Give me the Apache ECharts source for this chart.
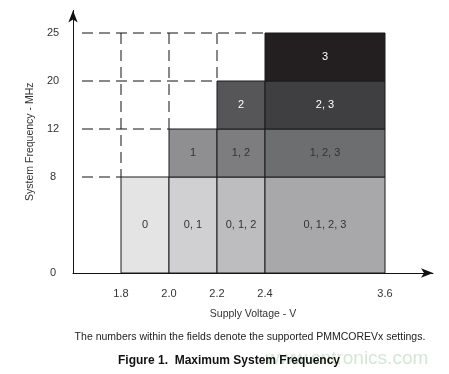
<!DOCTYPE html>
<html>
<head>
<meta charset="utf-8">
<script src="https://cdn.jsdelivr.net/npm/echarts@6/dist/echarts.min.js"></script>
<style>
html,body{margin:0;padding:0;background:#fff;}
#chart{width:449px;height:374px;}
</style>
</head>
<body>
<div id="chart"></div>
<script>
// ---- Data ----
var voltageTicks = [1.8, 2.0, 2.2, 2.4, 3.6];          // Supply Voltage - V
var voltageLabels = ['1.8', '2.0', '2.2', '2.4', '3.6'];
var freqTicks = [0, 8, 12, 20, 25];                     // System Frequency - MHz
var freqLabels = ['0', '8', '12', '20', '25'];

// field cells: voltage from, voltage to, freq from, freq to
var cellVFrom  = [1.8, 2.0, 2.2, 2.4, 2.0, 2.2, 2.4, 2.2, 2.4, 2.4];
var cellVTo    = [2.0, 2.2, 2.4, 3.6, 2.2, 2.4, 3.6, 2.4, 3.6, 3.6];
var cellFFrom  = [0,   0,   0,   0,   8,   8,   8,   12,  12,  20];
var cellFTo    = [8,   8,   8,   8,   12,  12,  12,  20,  20,  25];
var cellLabels = ['0', '0, 1', '0, 1, 2', '0, 1, 2, 3', '1', '1, 2', '1, 2, 3', '2', '2, 3', '3'];

// maximum frequency per voltage level (for dashed guide lines)
var maxFreqAtVoltage = [8, 12, 20, 25];      // at 1.8, 2.0, 2.2, 2.4
var guideVoltages = [1.8, 2.0, 2.2, 2.4];
var topFreq = 25;

// ---- styles ----
var cellColors = ['#e4e4e5', '#d0d0d2', '#bdbdbf', '#a8a8aa', '#8f8f91', '#7d7d80', '#6d6e70', '#565658', '#3f3f41', '#231f20'];
var cellTextColors = ['#333', '#333', '#333', '#333', '#333', '#333', '#333', '#fff', '#fff', '#fff'];

// axis positions (piecewise scale of the original figure)
var xPosOfTick = [1, 2, 3, 4, 6.5];
var yPosOfTick = [0, 2, 3, 4, 5];
function mapPiece(v, ticks, pos) {
  for (var i = 0; i < ticks.length - 1; i++) {
    if (v >= ticks[i] && v <= ticks[i + 1]) {
      return pos[i] + (v - ticks[i]) / (ticks[i + 1] - ticks[i]) * (pos[i + 1] - pos[i]);
    }
  }
  return pos[pos.length - 1];
}
function xm(v) { return mapPiece(v, voltageTicks, xPosOfTick); }
function ym(v) { return mapPiece(v, freqTicks, yPosOfTick); }

var UNIT = 48, X0 = 73, Y0 = 273, XMAX = 7.5, YMAX = 5.47;
var FONT = '"Liberation Sans", Arial, sans-serif';

var cellData = cellLabels.map(function (l, i) {
  return [xm(cellVFrom[i]), xm(cellVTo[i]), ym(cellFFrom[i]), ym(cellFTo[i]), i];
});

// dashed segments: [x1,y1,x2,y2]
var dashData = [];
guideVoltages.forEach(function (v, i) {
  var f = maxFreqAtVoltage[i];
  dashData.push([0, ym(f), xm(v), ym(f), 1]);             // horizontal
  if (f < topFreq) dashData.push([xm(v), ym(topFreq), xm(v), ym(f), 0]); // vertical
});

function labelLookup(val, pos, labels) {
  for (var i = 0; i < pos.length; i++) if (Math.abs(val - pos[i]) < 1e-6) return labels[i];
  return '';
}

var chart = echarts.init(document.getElementById('chart'), null, {renderer: 'canvas'});
chart.setOption({
  animation: false,
  backgroundColor: '#fff',
  grid: { left: X0, top: Y0 - UNIT * YMAX, width: UNIT * XMAX, height: UNIT * YMAX },
  xAxis: {
    type: 'value', min: 0, max: XMAX, interval: 0.5,
    name: 'Supply Voltage - V', nameLocation: 'middle', nameGap: 36,
    nameTextStyle: { color: '#333', fontSize: 10.5, fontFamily: FONT },
    axisLine: { show: true, symbol: ['none', 'arrow'], symbolSize: [7, 12], lineStyle: { color: '#111', width: 1 } },
    axisTick: { show: false }, splitLine: { show: false },
    axisLabel: { show: true, margin: 15, color: '#333', fontSize: 11, fontFamily: FONT, showMaxLabel: true, showMinLabel: true,
      formatter: function (v) { return labelLookup(v, xPosOfTick, voltageLabels); } }
  },
  yAxis: {
    type: 'value', min: 0, max: YMAX, interval: 1,
    name: 'System Frequency - MHz', nameLocation: 'middle', nameGap: 36, nameRotate: 90,
    nameTextStyle: { color: '#333', fontSize: 10.5, fontFamily: FONT },
    axisLine: { show: true, symbol: ['none', 'arrow'], symbolSize: [7, 12], lineStyle: { color: '#111', width: 1 } },
    axisTick: { show: false }, splitLine: { show: false },
    axisLabel: { show: true, margin: 20, align: 'center', color: '#333', fontSize: 11, fontFamily: FONT,
      formatter: function (v) { return labelLookup(v, yPosOfTick, freqLabels); } }
  },
  series: [
    {
      type: 'custom', coordinateSystem: 'cartesian2d', data: dashData, z: 1,
      renderItem: function (params, api) {
        var p1 = api.coord([api.value(0), api.value(1)]);
        var p2 = api.coord([api.value(2), api.value(3)]);
        if (api.value(4) === 1) p1[0] += 9;
        return { type: 'line', shape: { x1: p1[0], y1: p1[1], x2: p2[0], y2: p2[1] },
          style: { stroke: '#111', lineWidth: 1, lineDash: [11, 6] } };
      }
    },
    {
      type: 'custom', coordinateSystem: 'cartesian2d', data: cellData, z: 2,
      renderItem: function (params, api) {
        var a = api.coord([api.value(0), api.value(3)]);
        var b = api.coord([api.value(1), api.value(2)]);
        var i = api.value(4);
        return { type: 'rect', shape: { x: a[0], y: a[1], width: b[0] - a[0], height: b[1] - a[1] },
          style: { fill: cellColors[i], stroke: '#1a1a1a', lineWidth: 1 },
          textContent: { style: { text: cellLabels[i], fill: cellTextColors[i], fontSize: 11, fontFamily: FONT } },
          textConfig: { position: 'inside' } };
      }
    }
  ],
  graphic: [
    { type: 'text', x: 347, y: 359, z: 1, style: { text: 'www.cntronics.com', align: 'center', verticalAlign: 'middle', fill: 'rgba(170,205,170,0.5)', font: '19px ' + FONT } },
    { type: 'text', x: 250, y: 337, z: 5, style: { text: 'The numbers within the fields denote the supported PMMCOREVx settings.', align: 'center', verticalAlign: 'middle', fill: '#222', font: '10.5px ' + FONT } },
    { type: 'text', x: 229, y: 361, z: 5, style: { text: 'Figure 1.  Maximum System Frequency', align: 'center', verticalAlign: 'middle', fill: '#111', font: 'bold 12px ' + FONT } }
  ]
});
</script>
</body>
</html>
